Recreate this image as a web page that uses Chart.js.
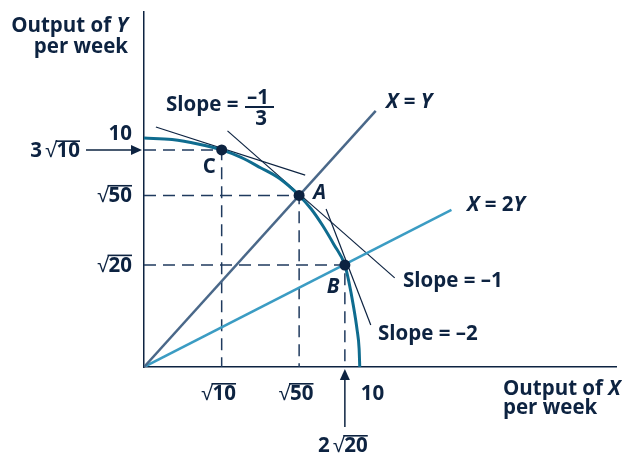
<!DOCTYPE html>
<html>
<head>
<meta charset="utf-8">
<script src="https://cdn.jsdelivr.net/npm/chart.js@4/dist/chart.umd.min.js"></script>
<style>
  html, body { margin: 0; padding: 0; background: #fff; }
  canvas { display: block; }
</style>
</head>
<body>
<canvas id="ppf" width="622" height="454"></canvas>
<script>
  // Production possibility frontier (axis units)
  const curveX = [0, 1.3, 2.5, 3.6, 4.5, 5.4, 6.3, 7.19, 7.75, 8.25, 8.8, 9.31, 9.5, 9.7, 9.88, 9.97, 10];
  const curveY = [10, 9.93, 9.74, 9.48, 9.15, 8.7, 8.22, 7.49, 6.9, 6.22, 5.35, 4.45, 3.7, 2.7, 1.6, 0.8, 0];

  // Points C, A, B
  const pointNames = ['C', 'A', 'B'];
  const pointX = [3.6, 7.19, 9.31];
  const pointY = [9.48, 7.49, 4.45];

  // Rays from the origin: X = Y and X = 2Y (end points)
  const rayXY = [[0, 0], [10.74, 11.18]];
  const rayX2Y = [[0, 0], [14.25, 6.86]];

  // Tangent segments at C, A, B
  const tangentC = [[0.55, 10.48], [7.47, 8.38]];
  const tangentA = [[3.87, 10.31], [11.62, 3.89]];
  const tangentB = [[8.44, 6.90], [10.51, 1.83]];

  // Axis tick labels
  const yTicks = [10, 9.48, 7.49, 4.45];
  const yTickLabels = ['10', '3√10', '√50', '√20'];
  const xTicks = [3.6, 7.19, 10, 9.31];
  const xTickLabels = ['√10', '√50', '10', '2√20'];

  const NAVY = '#0d2341';
  const CURVE = '#0f6c8f';
  const XY_COL = '#4a6889';
  const X2Y_COL = '#3b9cc3';
  const FS = 20.5;

  const toPts = arr => arr.map(p => ({ x: p[0], y: p[1] }));

  function fontFor(style) {
    const it = style === 'bi' ? 'italic ' : '';
    const w = style === 'r' ? '400 ' : '700 ';
    return it + w + FS + 'px "Open Sans", "DejaVu Sans", sans-serif';
  }

  // draw a run of text pieces (bold / bold italic / regular), optional overline for roots
  function drawRun(ctx, parts, x, y, align) {
    const widths = parts.map(p => { ctx.font = fontFor(p.s); return ctx.measureText(p.t).width; });
    const total = widths.reduce((a, b) => a + b, 0);
    let sx = align === 'right' ? x - total : align === 'center' ? x - total / 2 : x;
    parts.forEach((p, i) => {
      ctx.font = fontFor(p.s);
      ctx.fillText(p.t, sx, y);
      if (p.bar) ctx.fillRect(sx - 1, y - 17, widths[i] + 1, 1.6);
      sx += widths[i];
    });
  }

  function rootParts(label) {
    const i = label.indexOf('√');
    if (i < 0) return [{ t: label, s: 'b' }];
    const parts = [];
    if (i > 0) parts.push({ t: label.slice(0, i) + '\u2009', s: 'b' });
    parts.push({ t: '√', s: 'r' });
    parts.push({ t: label.slice(i + 1), s: 'b', bar: true });
    return parts;
  }

  function arrow(ctx, x1, y1, x2, y2) {
    const a = Math.atan2(y2 - y1, x2 - x1);
    ctx.beginPath();
    ctx.moveTo(x1, y1);
    ctx.lineTo(x2 - 8 * Math.cos(a), y2 - 8 * Math.sin(a));
    ctx.stroke();
    ctx.beginPath();
    ctx.moveTo(x2, y2);
    ctx.lineTo(x2 - 11 * Math.cos(a) + 5 * Math.sin(a), y2 - 11 * Math.sin(a) - 5 * Math.cos(a));
    ctx.lineTo(x2 - 11 * Math.cos(a) - 5 * Math.sin(a), y2 - 11 * Math.sin(a) + 5 * Math.cos(a));
    ctx.closePath();
    ctx.fill();
  }

  const labelPlugin = {
    id: 'labels',
    afterDraw(chart) {
      const ctx = chart.ctx;
      const xs = chart.scales.x, ys = chart.scales.y;
      ctx.save();
      ctx.fillStyle = NAVY;
      ctx.strokeStyle = NAVY;
      ctx.lineWidth = 1.5;
      ctx.textBaseline = 'alphabetic';

      // axis titles
      drawRun(ctx, [{ t: 'Output of ', s: 'b' }, { t: 'Y', s: 'bi' }], 128, 32, 'right');
      drawRun(ctx, [{ t: 'per week', s: 'b' }], 128, 53, 'right');
      drawRun(ctx, [{ t: 'Output of ', s: 'b' }, { t: 'X', s: 'bi' }], 503, 395, 'left');
      drawRun(ctx, [{ t: 'per week', s: 'b' }], 503, 414, 'left');

      // y tick labels
      yTicks.forEach((v, i) => {
        const py = ys.getPixelForValue(v);
        if (i === 0) drawRun(ctx, rootParts(yTickLabels[i]), 132, py + 2, 'right');
        else if (i === 1) {
          drawRun(ctx, rootParts(yTickLabels[i]), 80, py + 7.5, 'right');
          arrow(ctx, 86, py, 142, py);
        } else drawRun(ctx, rootParts(yTickLabels[i]), 132, py + 6.5, 'right');
      });

      // x tick labels
      xTicks.forEach((v, i) => {
        const px = xs.getPixelForValue(v);
        if (i === 2) drawRun(ctx, rootParts(xTickLabels[i]), px + 1, 400, 'left');
        else if (i === 3) {
          drawRun(ctx, rootParts(xTickLabels[i]), px - 2, 452, 'center');
          arrow(ctx, px, 427, px, 369);
        } else drawRun(ctx, rootParts(xTickLabels[i]), px - 3, 400, 'center');
      });

      // point letters
      const off = { C: [-19, 23, 'b'], A: [14, 4, 'bi'], B: [-18, 28, 'bi'] };
      pointNames.forEach((n, i) => {
        const px = xs.getPixelForValue(pointX[i]), py = ys.getPixelForValue(pointY[i]);
        drawRun(ctx, [{ t: n, s: off[n][2] }], px + off[n][0], py + off[n][1], 'left');
      });

      // line labels
      drawRun(ctx, [{ t: 'X', s: 'bi' }, { t: ' = ', s: 'b' }, { t: 'Y', s: 'bi' }], 386, 108, 'left');
      drawRun(ctx, [{ t: 'X', s: 'bi' }, { t: ' = 2', s: 'b' }, { t: 'Y', s: 'bi' }], 467, 211, 'left');
      drawRun(ctx, [{ t: 'Slope = –1', s: 'b' }], 403, 287, 'left');
      drawRun(ctx, [{ t: 'Slope = –2', s: 'b' }], 378, 340, 'left');

      // slope at C with a fraction
      drawRun(ctx, [{ t: 'Slope =', s: 'b' }], 166, 111, 'left');
      drawRun(ctx, [{ t: '–1', s: 'b' }], 258, 104, 'center');
      ctx.fillRect(245, 106, 29, 2);
      drawRun(ctx, [{ t: '3', s: 'b' }], 261, 125, 'center');

      ctx.restore();
    }
  };

  const guideSets = pointX.map((x, i) => ({
    data: [{ x: 0, y: pointY[i] }, { x: x, y: pointY[i] }, { x: x, y: 0 }],
    showLine: true,
    borderColor: '#1f3a5e',
    borderWidth: 1.5,
    borderDash: [12, 7],
    pointRadius: 0,
    order: 5
  }));

  const tangentSets = [tangentC, tangentA, tangentB].map(t => ({
    data: toPts(t),
    showLine: true,
    borderColor: NAVY,
    borderWidth: 1.2,
    pointRadius: 0,
    order: 3
  }));

  new Chart(document.getElementById('ppf').getContext('2d'), {
    type: 'scatter',
    data: {
      datasets: [
        {
          data: pointX.map((x, i) => ({ x: x, y: pointY[i] })),
          pointRadius: 5.5,
          pointBackgroundColor: NAVY,
          pointBorderWidth: 0,
          showLine: false,
          order: 0
        },
        {
          data: curveX.map((x, i) => ({ x: x, y: curveY[i] })),
          showLine: true,
          borderColor: CURVE,
          borderWidth: 3,
          pointRadius: 0,
          cubicInterpolationMode: 'monotone',
          order: 1
        },
        {
          data: toPts(rayXY),
          showLine: true,
          borderColor: XY_COL,
          borderWidth: 2.5,
          pointRadius: 0,
          order: 2
        },
        {
          data: toPts(rayX2Y),
          showLine: true,
          borderColor: X2Y_COL,
          borderWidth: 2.5,
          pointRadius: 0,
          order: 2
        },
        ...tangentSets,
        ...guideSets
      ]
    },
    options: {
      responsive: false,
      animation: false,
      layout: { padding: { left: 144, right: 3, top: 12, bottom: 87 } },
      plugins: { legend: { display: false }, tooltip: { enabled: false } },
      scales: {
        x: {
          type: 'linear', min: 0, max: 21.9,
          ticks: { display: false },
          grid: { display: false },
          border: { color: NAVY, width: 1.5 },
          afterFit(s) { s.height = 0; }
        },
        y: {
          type: 'linear', min: 0, max: 15.5,
          ticks: { display: false },
          grid: { display: false },
          border: { color: NAVY, width: 1.5 },
          afterFit(s) { s.width = 0; }
        }
      }
    },
    plugins: [labelPlugin]
  });
</script>
</body>
</html>
